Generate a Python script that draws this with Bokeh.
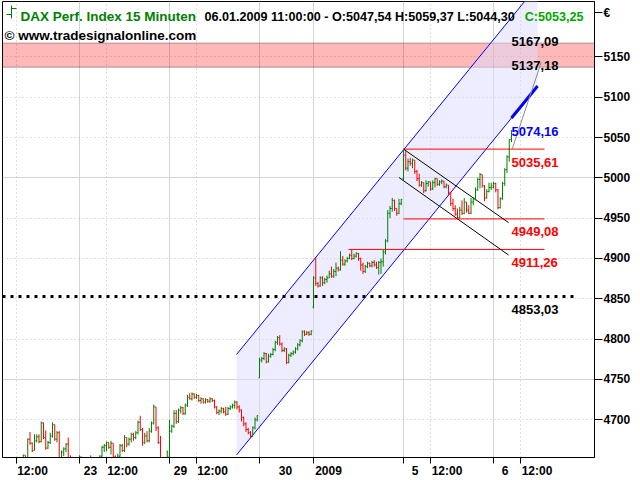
from bokeh.plotting import figure
from bokeh.models import (ColumnDataSource, FixedTicker, Grid, Label, BoxAnnotation, Range1d,
                          LinearAxis, CustomJSTickFormatter)
from bokeh.core.properties import value
from bokeh.embed import file_html
from bokeh.resources import INLINE

FONT = "Liberation Sans"
GREEN = "#008000"
RED = "#FF0000"
BLUE = "#0000FF"

# ---------------------------------------------------------------------------
# Sessions: number of 15-minute bar slots per trading day (first bar 09:00)
# ---------------------------------------------------------------------------
session_lengths = [40, 40, 40, 24, 40, 40, 40]   # 22., 23., 29., 30.12.2008, 02., 05., 06.01.2009
bars_to_noon = 12                                # 09:00 -> 12:00

# ---------------------------------------------------------------------------
# DAX 15-minute quotes, one group of lists per session
# (open of a bar = close of the bar before; first open given per session)
# ---------------------------------------------------------------------------
dec22_first_bar = 14
dec22_open = 4640
dec22_close = [4645, 4656, 4648, 4676, 4671, 4662, 4674, 4679, 4673, 4696, 4678, 4665, 4672,
               4680, 4694, 4676, 4684, 4650, 4660, 4664, 4670, 4652, 4648, 4646, 4644, 4650]
dec22_high = [4650, 4657, 4656, 4677, 4685, 4672, 4682, 4682, 4682, 4698, 4697, 4687, 4674,
              4684, 4697, 4694, 4686, 4686, 4662, 4666, 4671, 4678, 4656, 4654, 4650, 4652]
dec22_low = [4638, 4644, 4645, 4645, 4669, 4660, 4662, 4672, 4671, 4672, 4676, 4663, 4664,
             4670, 4678, 4674, 4672, 4645, 4648, 4655, 4660, 4648, 4644, 4640, 4640, 4642]

dec23_open = 4648
dec23_close = [4654, 4645, 4640, 4642, 4652, 4647, 4644, 4646, 4650, 4655, 4666, 4668, 4672, 4666,
               4671, 4654, 4650, 4655, 4668, 4662, 4678, 4670, 4676, 4682, 4678, 4684, 4697, 4688,
               4672, 4680, 4674, 4686, 4696, 4716, 4690, 4672, 4650, 4640, 4645, 4660]
dec23_high = [4656, 4654, 4647, 4646, 4653, 4656, 4650, 4650, 4651, 4656, 4668, 4670, 4673, 4672,
              4674, 4671, 4656, 4658, 4670, 4670, 4681, 4678, 4678, 4684, 4684, 4686, 4699, 4705,
              4690, 4684, 4686, 4690, 4698, 4719, 4716, 4692, 4680, 4652, 4650, 4662]
dec23_low = [4645, 4640, 4635, 4636, 4640, 4645, 4640, 4640, 4642, 4648, 4652, 4660, 4661, 4664,
             4657, 4650, 4646, 4648, 4652, 4660, 4660, 4666, 4668, 4672, 4674, 4676, 4682, 4686,
             4668, 4670, 4672, 4672, 4684, 4694, 4686, 4670, 4645, 4632, 4636, 4644]

dec29_open = 4655
dec29_close = [4686, 4692, 4708, 4698, 4712, 4715, 4708, 4718, 4728, 4726, 4732, 4728, 4730, 4724,
               4726, 4722, 4725, 4723, 4726, 4724, 4716, 4709, 4711, 4714, 4710, 4707, 4714, 4716,
               4718, 4722, 4716, 4712, 4703, 4695, 4688, 4684, 4680, 4690, 4700, 4705]
dec29_high = [4700, 4694, 4712, 4712, 4714, 4717, 4716, 4720, 4731, 4733, 4734, 4733, 4732, 4731,
              4728, 4727, 4727, 4726, 4728, 4727, 4725, 4717, 4713, 4716, 4715, 4716, 4716, 4718,
              4720, 4724, 4723, 4718, 4713, 4704, 4697, 4690, 4686, 4692, 4703, 4706]
dec29_low = [4652, 4684, 4690, 4695, 4696, 4708, 4706, 4706, 4716, 4725, 4724, 4726, 4726, 4722,
             4720, 4720, 4720, 4721, 4721, 4722, 4714, 4707, 4706, 4708, 4708, 4705, 4706, 4712,
             4714, 4714, 4713, 4709, 4698, 4692, 4685, 4682, 4678, 4679, 4688, 4698]

dec30_open = 4752
dec30_close = [4774, 4776, 4782, 4772, 4779, 4781, 4787, 4796, 4802, 4794, 4786, 4788, 4771, 4780,
               4782, 4784, 4788, 4793, 4798, 4809, 4806, 4808, 4806, 4810.2]
dec30_high = [4777, 4778, 4784, 4783, 4782, 4783, 4789, 4798, 4804, 4805, 4796, 4790, 4789, 4782,
              4784, 4786, 4790, 4795, 4800, 4811, 4811, 4810, 4810, 4811]
dec30_low = [4752, 4771, 4774, 4770, 4771, 4777, 4780, 4785, 4793, 4792, 4784, 4784, 4769, 4770,
             4778, 4780, 4782, 4786, 4791, 4796, 4804, 4805, 4804, 4805]

jan02_open = 4840
jan02_close = [4876, 4869, 4866, 4876, 4870, 4874, 4876, 4881, 4878, 4884, 4888, 4886, 4898, 4893,
               4897, 4900, 4904, 4900, 4903, 4906, 4900, 4892, 4884, 4890, 4894, 4891, 4895, 4892,
               4889, 4895, 4896, 4908, 4922, 4956, 4962, 4972, 4962, 4956, 4968, 4973]
jan02_high = [4878, 4902, 4871, 4878, 4878, 4876, 4879, 4885, 4890, 4887, 4895, 4890, 4909, 4903,
              4899, 4902, 4906, 4911.26, 4906, 4908, 4907, 4901, 4895, 4892, 4896, 4895, 4897, 4898,
              4896, 4897, 4900, 4910.5, 4924, 4960, 4965, 4975, 4973, 4962, 4974, 4974]
jan02_low = [4838, 4866, 4864, 4865, 4866, 4868, 4870, 4876, 4876, 4876, 4878, 4884, 4885, 4891,
             4891, 4895, 4899, 4898, 4899, 4901, 4897, 4885, 4881, 4882, 4888, 4889, 4889, 4890,
             4887, 4880, 4881, 4890, 4905, 4920, 4950, 4958, 4959, 4953, 4955, 4966]

jan05_open = 4999
jan05_close = [5028, 5012, 5020, 5018, 5022, 5008, 4999, 4991, 4994, 4984, 4993, 4995, 4986, 4994,
               4999, 4992, 4995, 4996, 4989, 4991, 4982, 4968, 4962, 4955, 4951, 4960, 4956, 4970,
               4960, 4956, 4970, 4974, 4985, 4998, 5004, 4990, 4975, 4983, 4988, 4990]
jan05_high = [5035.61, 5033, 5024, 5025, 5024, 5022, 5010, 5005, 4996, 4994, 4997, 4996, 4995, 4997,
              5000, 4999, 4997, 4998, 4996, 4993, 4991, 4982, 4974, 4966, 4962, 4964, 4972, 4975,
              4970, 4966, 4975, 4976, 4988, 5000, 5006, 5004, 4991, 4986, 4994, 4994]
jan05_low = [4997, 5009, 5008, 5015, 5012, 5005, 4996, 4989, 4989, 4981, 4983, 4989, 4984, 4985,
             4988, 4990, 4990, 4992, 4987, 4987, 4979, 4965, 4959, 4953, 4949.08, 4950, 4954, 4955,
             4957, 4955, 4955, 4966, 4972, 4984, 4987, 4988, 4971, 4974, 4982, 4985]

jan06_open = 4988
jan06_close = [4993, 4985, 4963, 4974, 4993, 5010, 5026, 5047.54, 5053.25]
jan06_high = [4995, 4994, 4986, 4976, 4995, 5012, 5028, 5048, 5059.37]
jan06_low = [4987, 4982, 4961, 4962, 4973, 4990, 5006, 5020, 5044.30]

# ---------------------------------------------------------------------------
# Drawing objects: channel, pivot levels, trend lines, target band
# ---------------------------------------------------------------------------
channel_from = 109.8          # bar index where the channel starts
channel_to = 243.6            # bar index where the channel ends
channel_low_start = 4656.4    # lower bound at channel start
channel_low_last = 5074.16    # lower bound at the last bar
channel_height = 124.6

band_low = 5137.18
band_high = 5167.09

level_values = [5035.61, 4949.08, 4911.26]
level_from_bar = [184, 184, 159.6]
level_to_bar = 246.7

support_level = 4853.03
support_to_bar = 261.3

trend_x0 = [184, 182]
trend_y0 = [5035.61, 5000.4]
trend_x1 = [230.7, 230.7]
trend_y1 = [4944.5, 4904.3]

target_x = [232.3, 245.2]
target_y = [5035.61, 5143.0]

# axis ticks
x_tick_text = ["12:00", "23", "12:00", "29", "12:00", "30", "2009", "5", "12:00", "6", "12:00"]
x_tick_session = [0, 1, 1, 2, 2, 3, 4, 5, 5, 6, 6]
x_tick_noon = [1, 0, 1, 0, 1, 0, 0, 0, 1, 0, 1]
x_label_center_px = [16, 11, 16, 11, 16, 26, 15, 11.5, 16.5, 11.5, 16.5]
y_ticks = [4700, 4750, 4800, 4850, 4900, 4950, 5000, 5050, 5100, 5150]
y_solid_grid = [4750, 5000]
currency = "\u20ac"

# ---------------------------------------------------------------------------
# Assemble bars
# ---------------------------------------------------------------------------
day_start = []
acc = 0
for n in session_lengths:
    day_start.append(acc)
    acc += n

sessions = [
    (0, dec22_first_bar, dec22_open, dec22_close, dec22_high, dec22_low),
    (1, 0, dec23_open, dec23_close, dec23_high, dec23_low),
    (2, 0, dec29_open, dec29_close, dec29_high, dec29_low),
    (3, 0, dec30_open, dec30_close, dec30_high, dec30_low),
    (4, 0, jan02_open, jan02_close, jan02_high, jan02_low),
    (5, 0, jan05_open, jan05_close, jan05_high, jan05_low),
    (6, 0, jan06_open, jan06_close, jan06_high, jan06_low),
]

bx, bo, bh, bl, bc = [], [], [], [], []
for day, first, op, closes, highs, lows in sessions:
    prev = op
    for k, (cl, hi, lo) in enumerate(zip(closes, highs, lows)):
        bx.append(day_start[day] + first + k)
        bo.append(prev)
        bh.append(hi)
        bl.append(lo)
        bc.append(cl)
        prev = cl

colors = [GREEN if c >= o else RED for o, c in zip(bo, bc)]
tick_w = 0.45
bars = ColumnDataSource(dict(
    x=bx, o=bo, h=bh, l=bl, c=bc, color=colors,
    xl=[x - tick_w for x in bx], xr=[x + tick_w for x in bx],
))
last_idx = bx[-1]

# ---------------------------------------------------------------------------
# Figure
# ---------------------------------------------------------------------------
PX_PER_BAR = 2.25
FRAME_W, FRAME_H = 592, 456
x_lo = 5.78
x_hi = x_lo + FRAME_W / PX_PER_BAR
y_lo, y_hi = 4653.3, 5218.6
ppy = FRAME_H / (y_hi - y_lo)


def px_x(px):
    return x_lo + (px - 2) / PX_PER_BAR


def px_y(py):
    return y_hi - (py - 1) / ppy


p = figure(width=640, height=480,
           x_range=Range1d(x_lo, x_hi), y_range=Range1d(y_lo, y_hi),
           y_axis_location="right", toolbar_location=None, output_backend="svg",
           min_border_left=2, min_border_top=1, min_border_right=46, min_border_bottom=23,
           background_fill_color="white", border_fill_color="white",
           outline_line_color="black", outline_line_width=1, outline_line_alpha=1.0)

x_ticks = [day_start[s] + (bars_to_noon if n else 0) for s, n in zip(x_tick_session, x_tick_noon)]
day_ticks = [t for t, n in zip(x_ticks, x_tick_noon) if not n]
noon_ticks = [t for t, n in zip(x_ticks, x_tick_noon) if n]

# time axis: tick marks only
xa = p.xaxis[0]
xa.ticker = FixedTicker(ticks=x_ticks, minor_ticks=[])
xa.major_label_overrides = {t: "" for t in x_ticks}
xa.major_label_text_font_size = "1px"
xa.major_label_text_color = None
xa.major_label_standoff = 0
xa.major_tick_in = 0
xa.major_tick_out = 6
xa.major_tick_line_color = "black"
xa.axis_line_color = "black"
xa.minor_tick_line_color = None

# time axis: labels, set just right of their tick marks
label_pos = [t + c / PX_PER_BAR for t, c in zip(x_ticks, x_label_center_px)]
xlab = LinearAxis(
    ticker=FixedTicker(ticks=label_pos, minor_ticks=[]),
    formatter=CustomJSTickFormatter(args=dict(labels=x_tick_text), code="return labels[index];"),
    major_tick_in=0, major_tick_out=0, major_tick_line_color=None, minor_tick_line_color=None,
    axis_line_color=None, major_label_standoff=0,
    major_label_text_font=FONT, major_label_text_font_style="bold",
    major_label_text_font_size="12px", major_label_text_color="black")
p.add_layout(xlab, "below")

# price scale, with the currency sign at its top
currency_tick = px_y(12)
ya = p.yaxis[0]
ya.ticker = FixedTicker(ticks=y_ticks + [currency_tick], minor_ticks=[])
ya.formatter = CustomJSTickFormatter(
    args=dict(sym=currency, cur=currency_tick),
    code="return Math.abs(tick - cur) < 1e-6 ? sym : tick.toFixed(0);")
ya.major_tick_in = 0
ya.major_tick_out = 8
ya.major_label_standoff = 1
ya.major_label_text_font = FONT
ya.major_label_text_font_style = "bold"
ya.major_label_text_font_size = "12px"
ya.major_label_text_color = "black"
ya.axis_line_color = "black"
ya.minor_tick_line_color = None

p.xgrid.ticker = FixedTicker(ticks=day_ticks)
p.xgrid.grid_line_color = "#D4D4D4"
p.ygrid.ticker = FixedTicker(ticks=y_solid_grid)
p.ygrid.grid_line_color = "#D4D4D4"
p.add_layout(Grid(dimension=0, ticker=FixedTicker(ticks=noon_ticks),
                  grid_line_color="#BEBEBE", grid_line_dash="1 3"))
p.add_layout(Grid(dimension=1,
                  ticker=FixedTicker(ticks=[t for t in y_ticks if t not in y_solid_grid]),
                  grid_line_color="#BEBEBE", grid_line_dash="1 3"))

# regression channel
slope = (channel_low_last - channel_low_start) / (last_idx - channel_from)


def channel_lower(x):
    return channel_low_start + slope * (x - channel_from)


p.patch([channel_from, channel_to, channel_to, channel_from],
        [channel_lower(channel_from), channel_lower(channel_to),
         channel_lower(channel_to) + channel_height, channel_lower(channel_from) + channel_height],
        fill_color="#DCDCFF", fill_alpha=0.5, line_color=None)

# target band
p.add_layout(BoxAnnotation(bottom=band_low, top=band_high, fill_color="red", fill_alpha=0.28,
                           line_color="black", line_width=1, level="underlay"))

p.line([channel_from, channel_to],
       [channel_lower(channel_from) + channel_height, channel_lower(channel_to) + channel_height],
       line_color=BLUE, line_width=1)
p.line([channel_from, last_idx], [channel_lower(channel_from), channel_lower(last_idx)],
       line_color=BLUE, line_width=1)
p.line([last_idx, channel_to], [channel_lower(last_idx), channel_lower(channel_to)],
       line_color=BLUE, line_width=3)

# support line
p.line([x_lo, support_to_bar], [support_level, support_level],
       line_color="black", line_width=3, line_dash="3 5")

# pivot levels
p.segment(x0=level_from_bar, y0=level_values, x1=[level_to_bar] * len(level_values),
          y1=level_values, line_color=RED, line_width=1)

# falling trend channel
p.segment(x0=trend_x0, y0=trend_y0, x1=trend_x1, y1=trend_y1, line_color="black", line_width=1)

# projection to the target band
p.line(target_x, target_y, line_color="#8C8C8C", line_width=1)

# OHLC bars
p.segment(x0="x", y0="l", x1="x", y1="h", line_color="color", line_width=1, source=bars)
p.segment(x0="xl", y0="o", x1="x", y1="o", line_color="color", line_width=1, source=bars)
p.segment(x0="x", y0="c", x1="xr", y1="c", line_color="color", line_width=1, source=bars)


def fmt(v):
    return f"{v:.2f}".replace(".", ",")


# value labels on the right
vals = [band_high, band_low, channel_low_last, level_values[0], level_values[1], level_values[2],
        support_level]
val_colors = ["black", "black", BLUE, RED, RED, RED, "black"]
val_above = [True, True, False, False, False, False, False]
p.text(x=[last_idx] * len(vals),
       y=[v + 1.5 / ppy if a else v - 13 / ppy for v, a in zip(vals, val_above)],
       text=[fmt(v) for v in vals],
       text_color=val_colors, text_font=value(FONT), text_font_style="bold",
       text_font_size="13px", text_baseline="alphabetic", text_align="left")

# header
icon_x = px_x(11)
p.segment(x0=[icon_x, px_x(6), icon_x], y0=[px_y(5), px_y(14), px_y(8)],
          x1=[icon_x, icon_x, px_x(16)], y1=[px_y(18), px_y(14), px_y(8)],
          line_color=GREEN, line_width=1)


def add_label(px, py, text, color="black", size="13px", align="left"):
    p.add_layout(Label(x=px_x(px), y=px_y(py), text=text, text_color=color, text_font=FONT,
                       text_font_style="bold", text_font_size=size,
                       text_baseline="alphabetic", text_align=align))


add_label(20, 16, "DAX Perf. Index 15 Minuten", GREEN, "13.5px")
add_label(204, 16, f"06.01.2009 11:00:00 - O:{fmt(bo[-1])} H:{fmt(bh[-1])} L:{fmt(bl[-1])}",
          "black", "12.6px")
add_label(583, 16, f"C:{fmt(bc[-1])}", "#00A800", "12.6px", "right")
add_label(4, 35, "\u00a9 www.tradesignalonline.com", "black", "13.5px")

open("out.html", "w").write(file_html(p, INLINE))
